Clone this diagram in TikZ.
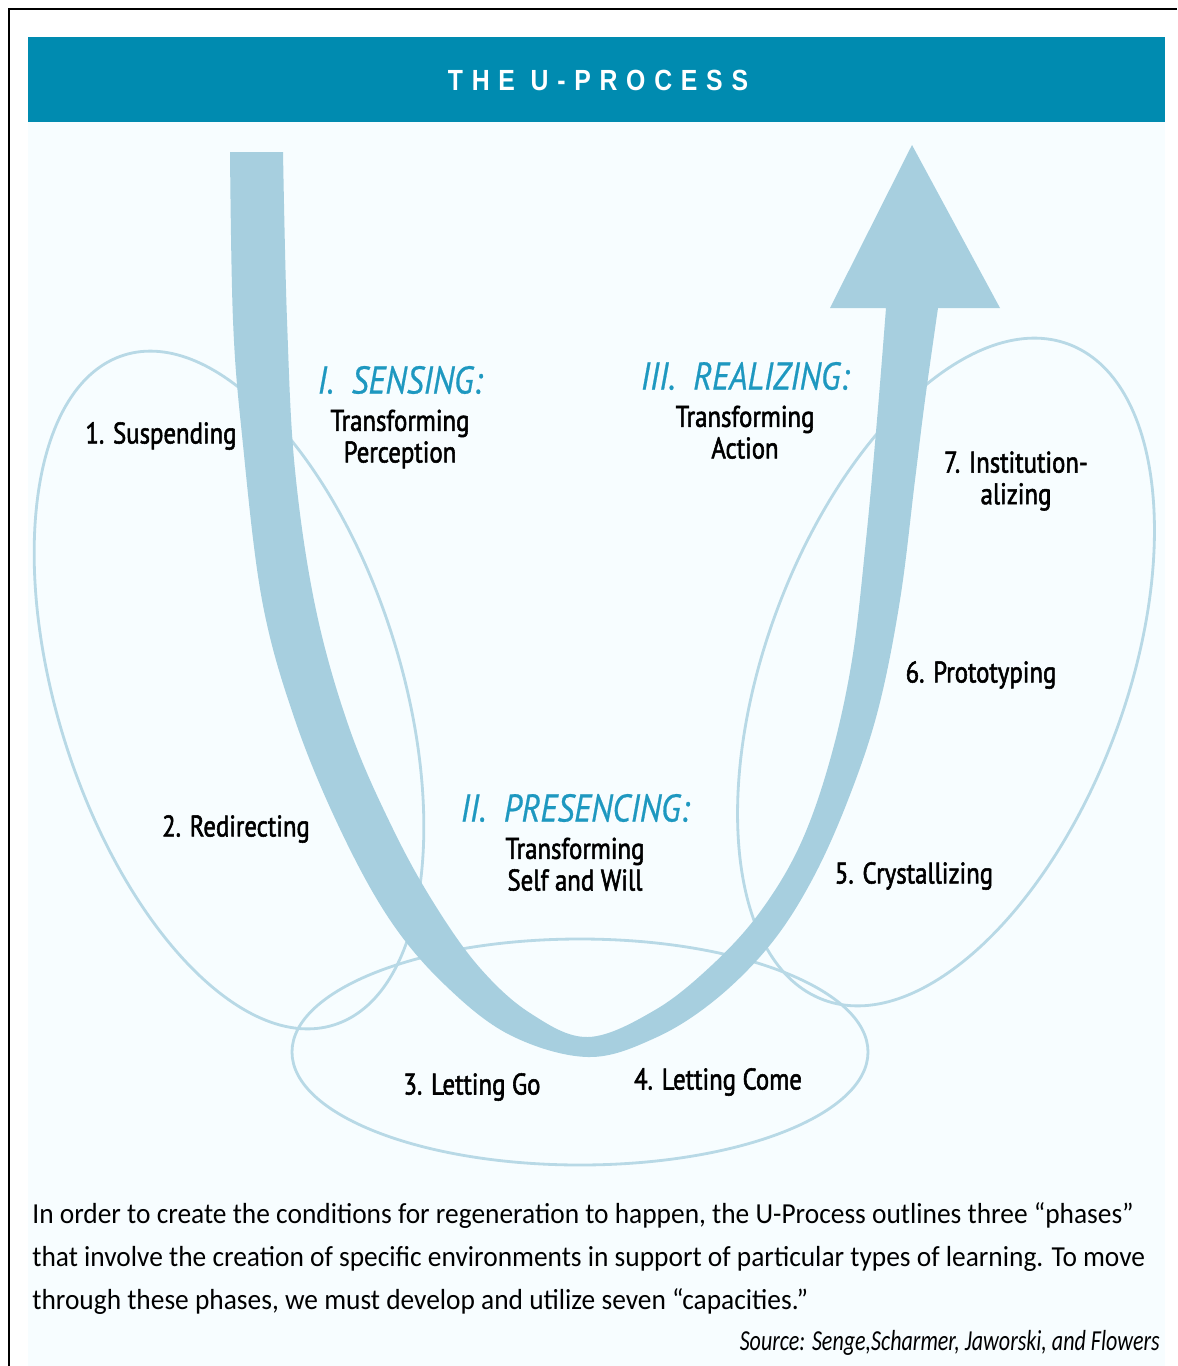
\documentclass[tikz,border=0pt]{standalone}
\usepackage{fontspec}
\setmainfont[FakeStretch=0.945]{Carlito}
\newfontfamily\capfont[FakeStretch=0.83,FakeBold=1.8]{PT Sans}
\newfontfamily\phasefont[FakeStretch=0.86,FakeBold=0.6]{PT Sans}
\newfontfamily\sourcefont[FakeStretch=0.76]{Carlito}
\newfontfamily\titlefont[LetterSpace=30,FakeStretch=0.85]{Liberation Sans}
\usetikzlibrary{positioning}
\definecolor{bandblue}{RGB}{0,139,176}
\definecolor{ublue}{RGB}{167,207,223}
\definecolor{ringblue}{RGB}{184,217,230}
\definecolor{phaseblue}{RGB}{30,152,192}
\definecolor{paper}{RGB}{247,253,255}
\tikzset{
  capacity/.style={font=\capfont\fontsize{17}{18}\selectfont, text=black, inner sep=0pt, align=center},
  phase/.style={font=\phasefont\itshape\fontsize{22}{24}\selectfont, text=phaseblue, inner sep=0pt},
  ring/.style={draw=ringblue, line width=1.6pt},
  bodytext/.style={font=\fontsize{16.5}{24.4}\selectfont, inner sep=0pt, anchor=base west},
  sourcetext/.style={font=\sourcefont\itshape\fontsize{16.5}{20}\selectfont, inner sep=0pt, anchor=base east},
  titletext/.style={font=\titlefont\bfseries\fontsize{16.6}{20}\selectfont, text=white, inner sep=0pt}
}

\begin{document}
\begin{tikzpicture}[x=0.02cm,y=-0.02cm]
\useasboundingbox (0,0) rectangle (1177,1366);
\coordinate (tip) at (912,145);
\coordinate (headl) at (830,308);
\coordinate (headr) at (1000,308);
\coordinate (shaftl) at (886,308);
\coordinate (shaftr) at (938,308);
% frame and header band
\fill[white] (0,0) rectangle (1177,1366);
\fill[paper] (28,37) rectangle (1165,1366);
\draw[line width=1.2pt] (9,1366) -- (9,9) -- (1177,9);
\fill[bandblue] (28,37) rectangle (1165,122);
\node[titletext] (title) at (598,80) {THE U-PROCESS};
% draws capacity rings
\draw[ring, rotate around={17.4:(229,690)}] (229,690) ellipse [x radius=172, y radius=351];
\draw[ring, rotate around={-20.5:(946,672)}] (946,672) ellipse [x radius=180, y radius=350];
\draw[ring] (580,1052) ellipse [x radius=288, y radius=113];
% draws the U
\fill[ublue] plot[smooth, tension=0.6] coordinates {(230,152) (233,320) (242,435) (262,600) (295,720) (340,829) (390,920) (445,985) (510,1035) (588,1057) (655,1038) (715,1000) (770,945) (812,880) (848,800) (878,710) (900,600) (915,480) (925,400) (938,308)}
  -- (headr) -- (tip) -- (headl) -- (shaftl)
  -- plot[smooth, tension=0.6] coordinates {(886,308) (877,420) (866,540) (852,660) (830,760) (800,845) (760,912) (712,965) (655,1010) (588,1037) (530,1013) (480,968) (435,905) (393,829) (350,730) (316,610) (295,470) (287,320) (283,152)}
  -- cycle;
% labels phases
\node[phase] (sensing) at (400,380) {I.\ \ SENSING:};
\node[capacity, below=0.3cm of sensing] (sensingsub) {Transforming\\Perception};
\node[phase] (realizing) at (745,376) {III.\ \ REALIZING:};
\node[capacity, below=0.3cm of realizing] (realizingsub) {Transforming\\Action};
\node[phase] (presencing) at (575,808) {II.\ \ PRESENCING:};
\node[capacity, below=0.3cm of presencing] (presencingsub) {Transforming\\Self and Will};
% labels capacities
\node[capacity] (suspending) at (161,436) {1. Suspending};
\node[capacity] (redirecting) at (236,829) {2. Redirecting};
\node[capacity] (lettinggo) at (472,1087) {3. Letting Go};
\node[capacity] (lettingcome) at (718,1082) {4. Letting Come};
\node[capacity] (crystallizing) at (914,876) {5. Crystallizing};
\node[capacity] (prototyping) at (981,675) {6. Prototyping};
\node[capacity] (institution) at (1016,481) {7. Institution-\\alizing};
% caption
\node[bodytext] (line1) at (32,1223) {In order to create the conditions for regeneration to happen, the U-Process outlines three “phases”};
\node[bodytext] (line2) at (32,1266) {that involve the creation of specific environments in support of particular types of learning. To move};
\node[bodytext] (line3) at (32,1309) {through these phases, we must develop and utilize seven “capacities.”};
\node[sourcetext] (source) at (1160,1350) {Source: Senge,Scharmer, Jaworski, and Flowers};
\end{tikzpicture}
\end{document}
